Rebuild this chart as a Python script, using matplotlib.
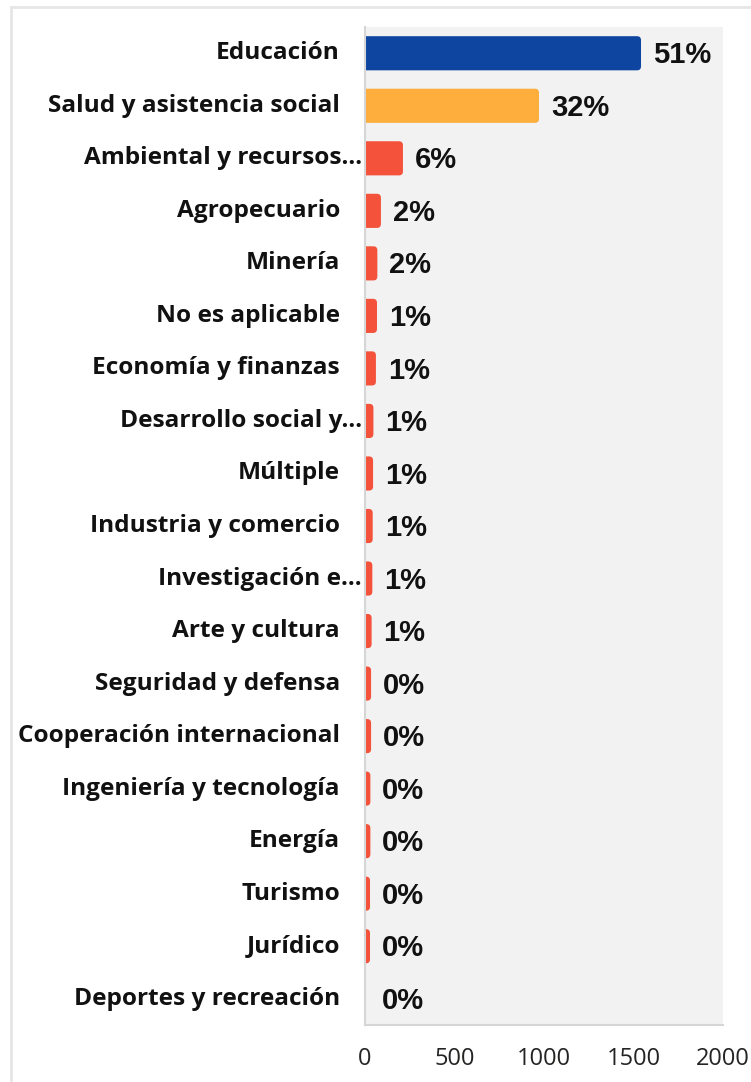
import matplotlib.pyplot as plt
import matplotlib.transforms as mtransforms
from matplotlib.patches import FancyBboxPatch
from matplotlib.lines import Line2D

categorias = ['Educación', 'Salud y asistencia social', 'Ambiental y recursos...',
              'Agropecuario', 'Minería', 'No es aplicable', 'Economía y finanzas',
              'Desarrollo social y...', 'Múltiple', 'Industria y comercio',
              'Investigación e...', 'Arte y cultura', 'Seguridad y defensa',
              'Cooperación internacional', 'Ingeniería y tecnología', 'Energía',
              'Turismo', 'Jurídico', 'Deportes y recreación']
valores = [1542, 972, 212, 89, 69, 67, 61, 47, 45, 43, 41, 37, 34, 34, 30, 30, 28, 28, 0]
porcentajes = ['51%', '32%', '6%', '2%', '2%', '1%', '1%', '1%', '1%', '1%',
               '1%', '1%', '0%', '0%', '0%', '0%', '0%', '0%', '0%']
truncadas = ['Ambiental y recursos...', 'Desarrollo social y...', 'Investigación e...']
xticks = [0, 500, 1000, 1500, 2000]

AZUL = '#0E45A0'
NARANJA = '#FDAE3D'
ROJO = '#F4523A'
colores = [AZUL, NARANJA] + [ROJO] * (len(categorias) - 2)

fig = plt.figure(figsize=(7.51, 10.82), dpi=100)
fig.patch.set_facecolor('white')
ax = fig.add_axes([365 / 751, 1 - 1025 / 1082, 358 / 751, 998 / 1082])
ax.set_facecolor('#F2F2F2')

y = list(range(len(categorias)))
barras = ax.barh(y, valores, height=0.65, color=colores)
ax.set_xlim(0, 2000)
ax.set_ylim(len(categorias) - 0.5, -0.5)

# rounded ends like the original (left side hidden behind the axis)
px_x = 2000 / 358
px_y = 19 / 998
for b, c in zip(barras, colores):
    w = b.get_width()
    if w <= 0:
        b.set_visible(False)
        continue
    r = min(4 * px_x, w / 2 + 2 * px_x)
    p = FancyBboxPatch((b.get_x() - 2 * r, b.get_y()), w + 2 * r, b.get_height(),
                       boxstyle=f'round,pad=0,rounding_size={r}',
                       mutation_aspect=px_y / px_x, fc=c, ec='none', clip_on=True)
    ax.add_patch(p)
    b.set_visible(False)

for i, (v, t) in enumerate(zip(valores, porcentajes)):
    ax.annotate(t, xy=(max(v, 28), i), xytext=(8.6, -1.5), textcoords='offset points',
                va='center', ha='left', fontsize=21, fontweight='bold',
                family='Liberation Sans', color='#111111')

ax.set_yticks([])
trans = mtransforms.blended_transform_factory(ax.transAxes, ax.transData)
for i, cat in enumerate(categorias):
    dx = -3 if cat in truncadas else -25
    ax.text(dx / 358, i, cat, transform=trans, ha='right', va='center',
            fontsize=17.6, fontweight='bold', family='Open Sans', color='#111111')

ax.set_xticks(xticks)
ax.set_xticklabels([str(t) for t in xticks], fontsize=17, family='Open Sans', color='#252423')
ax.tick_params(axis='x', length=0, pad=16)

for s in ['top', 'right']:
    ax.spines[s].set_visible(False)
for s in ['left', 'bottom']:
    ax.spines[s].set_color('#D6D6D6')
    ax.spines[s].set_linewidth(1.5)

# light frame around the visual
fig.add_artist(Line2D([11 / 751, 11 / 751], [0, 1 - 7 / 1082], color='#E6E6E6', lw=2))
fig.add_artist(Line2D([11 / 751, 1], [1 - 7 / 1082, 1 - 7 / 1082], color='#E6E6E6', lw=2))

fig.savefig('out.png', dpi=100)
